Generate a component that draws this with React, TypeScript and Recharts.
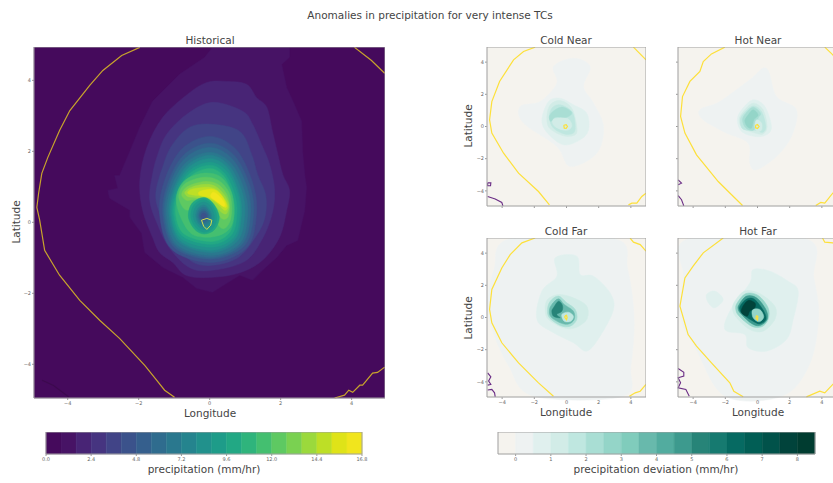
import React from "react";
import { ScatterChart, Scatter, XAxis, YAxis } from "recharts";

type Pts = number[][];
const FONT = "'DejaVu Sans', sans-serif";

const viridisColors = ["#450a5c","#471365","#482475","#463480","#414487","#3b528b","#355f8d","#2f6c8e","#2a788e","#25848e","#21918c","#1e9c89","#22a884","#2fb47c","#44bf70","#5ec962","#7ad151","#9bd93c","#bddf26","#dfe318","#f1e51d"];
const precipLevels = [0,0.8,1.6,2.4,3.2,4,4.8,5.6,6.4,7.2,8,8.8,9.6,10.4,11.2,12,12.8,13.6,14.4,15.2,16,16.8];
const precipTicks = [0,2.4,4.8,7.2,9.6,12,14.4,16.8];
const devColors = ["#f5f3ee","#eef2f2","#e0f0ee","#d2ece7","#bfe7e0","#a9ded4","#94d5c8","#80ccbc","#68b9ac","#52ac9f","#3d9a8e","#278478","#167a70","#066a62","#015e55","#01524a","#01433b","#003c30"];
const devLevels = [-0.5,0,0.5,1,1.5,2,2.5,3,3.5,4,4.5,5,5.5,6,6.5,7,7.5,8,8.5];
const devTicks = [0,1,2,3,4,5,6,7,8];
const geoTicks = [-4,-2,0,2,4];

// Historical: filled contour outlines, level index in viridisColors
const h1: Pts = [[0.08,4.93],[-0.14,4.65],[-0.85,4.17],[-1.61,3.41],[-1.97,2.68],[-2.25,2.0],[-2.54,1.32],[-2.68,1.32],[-2.59,0.96],[-2.87,0.9],[-2.82,0.68],[-2.25,0.34],[-2.25,0.14],[-1.92,-0.31],[-1.83,-0.85],[-1.32,-1.27],[-0.76,-1.55],[-0.37,-1.86],[0.08,-1.97],[0.48,-1.72],[0.85,-1.49],[1.21,-1.63],[1.49,-1.35],[1.89,-0.99],[2.17,-0.65],[2.48,-0.51],[2.68,0.34],[2.73,0.99],[2.68,1.35],[2.62,2.0],[2.59,2.85],[2.39,3.32],[2.17,3.8],[2.03,4.45],[2.25,4.65],[2.25,4.93]];
const h2: Pts = [[-0.08,3.94],[0.48,3.97],[1.04,3.89],[1.32,3.52],[1.61,3.24],[1.77,2.56],[1.92,1.92],[2.06,1.35],[2.25,0.9],[2.17,0.34],[1.97,-0.42],[1.49,-1.07],[0.85,-1.42],[0.08,-1.55],[-0.65,-1.5],[-1.04,-1.13],[-1.41,-0.85],[-1.61,-0.42],[-1.89,0.34],[-1.97,1.18],[-1.77,2.11],[-1.32,2.96],[-0.62,3.61]];
const h3: Pts = [[0.08,3.38],[0.93,3.13],[1.21,2.76],[1.46,2.2],[1.69,1.63],[1.83,0.9],[1.75,0.2],[1.46,-0.51],[0.99,-1.1],[0.08,-1.35],[-0.56,-1.28],[-1.13,-0.73],[-1.46,-0.08],[-1.69,0.62],[-1.61,1.35],[-1.46,1.92],[-1.21,2.48],[-0.65,3.04]];
const h4: Pts = [[0.08,2.76],[0.85,2.56],[1.18,1.92],[1.35,1.35],[1.58,0.76],[1.55,0.11],[1.27,-0.45],[0.79,-1.0],[0.08,-1.21],[-0.51,-1.1],[-0.99,-0.51],[-1.32,0.06],[-1.52,0.76],[-1.3,1.63],[-1.04,2.2],[-0.56,2.68]];
const h5: Pts = [[0,2.42],[0.73,2.07],[1.19,1.18],[1.32,0.29],[1.06,-0.7],[0.06,-1.13],[-1.06,-0.77],[-1.41,0.22],[-1.27,1.18],[-0.78,2.07]];
const h6: Pts = [[0,2.23],[0.68,1.9],[1.12,1.08],[1.24,0.26],[0.99,-0.65],[0.06,-1.04],[-0.99,-0.72],[-1.32,0.2],[-1.19,1.08],[-0.73,1.9]];
const h7: Pts = [[0,2.11],[0.63,1.8],[1.04,1.03],[1.15,0.25],[0.92,-0.61],[0.06,-0.99],[-0.95,-0.68],[-1.27,0.19],[-1.14,1.03],[-0.7,1.8]];
const h8: Pts = [[0,1.97],[0.59,1.68],[0.96,0.96],[1.07,0.23],[0.86,-0.58],[0.06,-0.93],[-0.91,-0.64],[-1.21,0.17],[-1.09,0.96],[-0.67,1.68]];
const h9: Pts = [[0,1.89],[0.54,1.61],[0.89,0.93],[0.99,0.25],[0.79,-0.52],[0.06,-0.85],[-0.86,-0.57],[-1.15,0.2],[-1.03,0.93],[-0.63,1.61]];
const h10: Pts = [[0,1.8],[0.5,1.54],[0.81,0.9],[0.9,0.25],[0.72,-0.48],[0.06,-0.79],[-0.82,-0.53],[-1.1,0.2],[-0.99,0.9],[-0.6,1.54]];
const h11: Pts = [[0,1.69],[0.47,1.45],[0.77,0.85],[0.85,0.25],[0.68,-0.42],[0.06,-0.7],[-0.8,-0.46],[-1.06,0.21],[-0.95,0.85],[-0.58,1.45]];
const h12: Pts = [[0,1.61],[0.42,1.38],[0.69,0.83],[0.77,0.27],[0.62,-0.35],[0.06,-0.62],[-0.76,-0.39],[-1.01,0.23],[-0.91,0.83],[-0.56,1.38]];
const h13: Pts = [[0,1.52],[0.39,1.31],[0.63,0.8],[0.7,0.29],[0.56,-0.29],[0.06,-0.54],[-0.72,-0.33],[-0.96,0.25],[-0.86,0.8],[-0.53,1.31]];
const h14: Pts = [[-0.2,1.38],[0.28,1.3],[0.59,0.9],[0.68,0.39],[0.62,-0.08],[0.34,-0.34],[-0.14,-0.42],[-0.56,-0.28],[-0.87,0.28],[-0.93,0.76],[-0.7,1.18]];
const h15: Pts = [[-0.17,1.27],[0.25,1.18],[0.54,0.85],[0.62,0.42],[0.56,0],[0.34,-0.17],[0,0.28],[-0.28,0.48],[-0.62,0.34],[-0.79,0.48],[-0.87,0.79],[-0.68,1.1]];
const h16: Pts = [[-0.14,1.15],[0.23,1.07],[0.48,0.79],[0.56,0.45],[0.51,0.14],[0.34,0.11],[0.14,0.42],[-0.08,0.59],[-0.39,0.65],[-0.65,0.62],[-0.79,0.79],[-0.62,1.01]];
const h17: Pts = [[-0.14,1.07],[0.17,1.01],[0.42,0.76],[0.54,0.48],[0.48,0.25],[0.34,0.28],[0.11,0.51],[-0.11,0.65],[-0.42,0.7],[-0.62,0.73],[-0.7,0.85],[-0.51,0.99]];
const h18: Pts = [[-0.51,0.93],[-0.11,0.99],[0.17,0.93],[0.39,0.7],[0.51,0.45],[0.42,0.34],[0.2,0.54],[-0.08,0.7],[-0.42,0.76],[-0.62,0.82]];
const h19: Pts = [[-0.28,0.87],[0.06,0.93],[0.28,0.82],[0.45,0.56],[0.45,0.42],[0.25,0.54],[0,0.7],[-0.28,0.76]];
const h20: Pts = [[0.11,0.85],[0.28,0.73],[0.42,0.54],[0.39,0.45],[0.2,0.59],[0.03,0.73]];
const eye12: Pts = [[-0.17,0.7],[0.1,0.53],[0.27,0.15],[0.14,-0.2],[-0.15,-0.33],[-0.42,-0.2],[-0.6,0.15],[-0.5,0.53]];
const eye11: Pts = [[-0.17,0.64],[0.07,0.48],[0.2,0.15],[0.1,-0.16],[-0.15,-0.28],[-0.38,-0.16],[-0.53,0.15],[-0.45,0.48]];
const eye10: Pts = [[-0.17,0.57],[0.03,0.44],[0.13,0.15],[0.05,-0.1],[-0.15,-0.2],[-0.33,-0.1],[-0.46,0.15],[-0.39,0.44]];
const eye9: Pts = [[-0.17,0.49],[-0.02,0.38],[0.06,0.16],[0,-0.05],[-0.16,-0.13],[-0.3,-0.05],[-0.39,0.16],[-0.34,0.38]];
const eye8: Pts = [[-0.17,0.43],[-0.05,0.35],[0.02,0.17],[-0.03,0],[-0.16,-0.07],[-0.28,0],[-0.35,0.17],[-0.3,0.35]];
const eye7: Pts = [[-0.17,0.37],[-0.07,0.31],[-0.02,0.17],[-0.06,0.05],[-0.16,-0.01],[-0.26,0.05],[-0.31,0.17],[-0.27,0.31]];
const eye6: Pts = [[-0.17,0.32],[-0.09,0.28],[-0.05,0.18],[-0.09,0.09],[-0.16,0.04],[-0.24,0.09],[-0.28,0.18],[-0.25,0.28]];
const eye5: Pts = [[-0.17,0.26],[-0.12,0.24],[-0.09,0.18],[-0.12,0.12],[-0.17,0.09],[-0.22,0.12],[-0.24,0.18],[-0.22,0.24]];

const histFills: [Pts, number][] = [[h2,2],[h3,3],[h4,4],[h5,5],[h6,6],[h7,7],[h8,8],[h9,9],[h10,10],[h11,11],[h12,12],[h13,13],[h14,14],[h15,15],[h16,16],[h17,17],[h18,18],[h19,19],[h20,20],[eye12,12],[eye11,11],[eye10,10],[eye9,9],[eye8,8],[eye7,7],[eye6,6],[eye5,5]];

const histYellowA: Pts = [[-1.97,4.93],[-2.48,4.7],[-3.01,4.28],[-3.38,3.86],[-3.94,3.15],[-4.23,2.59],[-4.56,1.83],[-4.73,1.38],[-4.82,0.82],[-4.87,0.42],[-4.79,0.06],[-4.65,-0.79],[-4.23,-1.49],[-3.66,-2.2],[-3.1,-2.76],[-2.54,-3.27],[-1.83,-4.03],[-1.49,-4.45],[-1.27,-4.73],[-0.99,-4.93]];
const histYellowB: Pts = [[3.52,-4.95],[3.8,-4.87],[3.92,-4.73],[4.03,-4.79],[4.23,-4.59],[4.31,-4.59],[4.59,-4.25],[4.73,-4.23],[4.93,-4.08]];
const histYellowC: Pts = [[4.08,4.93],[4.56,4.56],[4.93,4.2]];
const histEyeLoop: Pts = [[-0.23,0.06],[-0.08,0.11],[0.06,0.06],[0.03,-0.08],[-0.08,-0.2],[-0.17,-0.11],[-0.23,0.06]];
const histPurple: Pts = [[-4.72,-4.45],[-4.4,-4.6],[-3.96,-4.93]];

// Cold Near
const cnFills: [Pts, number][] = [
  [[[-1.64,1.55],[-0.6,2.69],[-0.81,3.73],[0.43,4.24],[1.47,3.73],[1.06,2.48],[1.68,1.45],[2.3,0],[1.88,-1.66],[0.23,-2.48],[-0.6,-1.24],[-2.67,0.21],[-2.88,1.24]],1],
  [[[-1.12,1.55],[-0.39,1.76],[0.43,1.35],[1.26,0.83],[1.37,-0.21],[0.85,-0.83],[-0.19,-1.14],[-1.18,-0.41],[-1.53,0.41]],2],
  [[[-1.01,1.35],[-0.39,1.61],[0.33,1.14],[0.64,0],[0.54,-0.52],[-0.19,-0.58],[-1.06,-0.1],[-1.22,0.62]],3],
  [[[-0.91,1.14],[-0.39,1.35],[0.33,0.93],[0.54,0.1],[0.43,-0.41],[-0.14,-0.46],[-0.81,-0.1],[-1.06,0.52]],4],
  [[[-0.81,0.46],[0.02,0.52],[0.33,0.1],[0.12,-0.21],[-0.39,-0.17],[-0.81,0.1]],3],
  [[[-0.7,1.04],[-0.19,1.2],[0.33,0.87],[0.02,0.58],[-0.7,0.58],[-0.97,0.31],[-1.06,0.66]],5],
];
const cnYellow: Pts[] = [
  [[-1.95,4.93],[-2.67,4.66],[-3.29,4.14],[-4.16,2.8],[-4.64,1.55],[-4.78,0.41],[-4.64,-0.41],[-3.91,-1.66],[-2.98,-2.9],[-1.74,-4.04],[-1.06,-4.87]],
  [[4.16,4.93],[4.94,4.14]],
  [[3.85,-4.87],[4.06,-4.76],[4.37,-4.76],[4.68,-4.35],[4.94,-4.14]],
  [[-0.17,0.08],[-0.02,0.12],[0.06,0],[-0.02,-0.12],[-0.14,-0.1],[-0.17,0.08]],
];
const cnPurple: Pts[] = [
  [[-4.9,-4.35],[-4.43,-4.51],[-4.02,-4.72],[-3.95,-4.93]],
  [[-4.9,-3.5],[-4.7,-3.5],[-4.72,-3.68],[-4.9,-3.68],[-4.9,-3.5]],
];

// Hot Near
const hnFills: [Pts, number][] = [
  [[[-3.58,1.04],[-2.34,1.55],[-0.48,2.9],[0.56,3.62],[1.18,1.86],[2.42,1.04],[2.11,-0.62],[1.18,-1.86],[-0.06,-2.69],[-0.48,-2.28],[-0.58,-1.04],[-1.93,-0.41],[-3.37,0.41]],1],
  [[[-0.99,1.04],[-0.27,1.66],[0.46,1.24],[0.87,0],[0.56,-0.52],[-0.17,-0.62],[-0.99,-0.31],[-1.26,0.41]],2],
  [[[-0.89,0.93],[-0.27,1.45],[0.35,1.04],[0.6,0],[0.35,-0.46],[-0.17,-0.41],[-0.93,-0.1],[-1.14,0.41]],3],
  [[[-0.85,0.83],[-0.27,1.28],[0.25,0.93],[0.52,0],[0.31,-0.37],[-0.06,-0.25],[-0.89,-0.17],[-1.06,0.41]],4],
  [[[-0.72,0.83],[-0.27,1.2],[0.19,0.83],[0.04,0.52],[-0.23,-0.21],[-0.72,-0.1],[-0.93,0.41]],5],
  [[[-0.58,0.72],[-0.27,1.04],[0.04,0.72],[-0.23,0.41],[-0.37,-0.1],[-0.64,0],[-0.79,0.37]],6],
  [[[-0.06,0.41],[0.25,0.21],[0.25,-0.21],[-0.02,-0.31],[-0.17,0]],3],
];
const hnYellow: Pts[] = [
  [[-2.03,4.93],[-2.86,4.51],[-3.37,4.04],[-3.58,3.42],[-4.2,2.8],[-4.66,1.86],[-4.78,0.62],[-4.51,-0.41],[-3.79,-1.76],[-2.44,-3.42],[-1.61,-4.24],[-0.93,-4.91]],
  [[4.18,4.93],[4.68,4.45],[4.94,4.1]],
  [[3.62,-4.91],[3.93,-4.72],[4.18,-4.76],[4.68,-4.14],[4.94,-3.9]],
  [[-0.12,0.08],[0,0.12],[0.1,0],[0,-0.12],[-0.12,-0.08],[-0.12,0.08]],
];
const hnPurple: Pts[] = [
  [[-4.93,-3.31],[-4.72,-3.52],[-4.93,-3.62]],
  [[-4.93,-4.29],[-4.72,-4.55],[-4.58,-4.93]],
];

// Cold Far
const cfFills: [Pts, number][] = [
  [[[-3.5,4.9],[3,4.9],[3.8,3],[4.2,0],[4,-3],[3.5,-4.9],[-2,-4.9],[-3.6,-3],[-4.6,-0.8],[-4.9,1],[-4.5,3]],1],
  [[[-0.7,3.71],[0.64,3.81],[0.85,2.67],[1.68,2.57],[2.71,1.53],[2.92,0.5],[2.09,-1.16],[1.26,-2.09],[0.43,-1.57],[-0.81,-0.95],[-1.84,-0.12],[-1.53,1.64],[-0.6,2.57]],2],
  [[[-1.18,1.12],[-0.5,1.43],[0.43,1.22],[1.26,0.7],[1.26,-0.12],[0.54,-0.64],[-0.19,-0.64],[-1.12,-0.12],[-1.33,0.5]],3],
  [[[-1.01,1.01],[-0.5,1.33],[0.02,0.91],[0.54,0.5],[0.64,-0.12],[0.23,-0.54],[-0.39,-0.5],[-1.06,-0.02],[-1.18,0.5]],5],
  [[[-0.91,0.81],[-0.5,1.16],[-0.14,0.81],[0.43,0.39],[0.48,-0.12],[0.12,-0.41],[-0.39,-0.33],[-0.97,0.04],[-1.06,0.46]],8],
  [[[-0.81,0.6],[-0.5,1.01],[-0.25,0.75],[-0.29,0.39],[-0.6,0.19],[-0.39,-0.02],[-0.81,0.08],[-0.91,0.39]],11],
  [[[-0.29,0.19],[0.12,0.33],[0.43,0.08],[0.27,-0.23],[-0.14,-0.23]],4],
];
const cfYellow: Pts[] = [
  [[-1.95,4.94],[-2.77,4.64],[-3.5,3.91],[-4.02,3.08],[-4.64,1.74],[-4.78,0.5],[-4.64,-0.33],[-4.02,-1.57],[-2.98,-2.82],[-1.74,-4.06],[-0.81,-4.89]],
  [[3.95,4.94],[4.16,4.68],[4.58,4.53],[4.94,4.12]],
  [[3.91,-4.89],[4.27,-4.68],[4.58,-4.58],[4.94,-4.16]],
  [[-0.1,0.1],[0,0.14],[0.04,0],[0,-0.14],[-0.1,0],[-0.1,0.1]],
];
const cfPurple: Pts[] = [
  [[-4.9,-3.44],[-4.7,-3.69],[-4.84,-3.95],[-4.7,-4.16],[-4.9,-4.2]],
  [[-4.9,-4.51],[-4.64,-4.47],[-4.47,-4.68],[-4.43,-4.93]],
];

// Hot Far
const hfFills: [Pts, number][] = [
  [[[-4.3,4.9],[3,4.9],[3.5,2.5],[3.8,0],[3.2,-3],[1.5,-4.9],[-2,-4.9],[-3.8,-2],[-4.8,0],[-4.6,2.5]],1],
  [[[-0.27,2.98],[0.77,2.88],[1.9,2.26],[2.53,1.64],[2.22,-0.12],[1.8,-1.37],[0.56,-2.09],[-0.58,-1.88],[-0.79,-1.06],[-2.03,-0.75],[-1.61,0.6],[-0.48,2.15]],2],
  [[[-3.17,1.43],[-2.65,1.64],[-2.13,1.12],[-2.65,0.6],[-3.06,0.91]],2],
  [[[-1.41,1.01],[-0.79,1.64],[0.14,1.49],[1.08,0.7],[1.08,-0.12],[0.35,-0.85],[-0.48,-0.75],[-1.3,-0.02],[-1.55,0.5]],3],
  [[[-1.26,0.91],[-0.72,1.49],[0.04,1.37],[0.66,0.6],[0.66,-0.12],[0.25,-0.58],[-0.37,-0.54],[-1.14,0.08],[-1.35,0.5]],6],
  [[[-1.14,0.81],[-0.68,1.33],[-0.06,1.22],[0.52,0.5],[0.6,-0.12],[0.14,-0.5],[-0.37,-0.37],[-0.99,0.19],[-1.2,0.5]],10],
  [[[-1.06,0.75],[-0.64,1.16],[-0.17,1.12],[0.39,0.39],[0.52,-0.12],[0.14,-0.39],[-0.27,-0.23],[-0.89,0.19],[-1.1,0.46]],13],
  [[[-0.93,0.66],[-0.58,1.06],[-0.17,0.91],[-0.17,0.6],[-0.48,0.39],[-0.64,0.08],[-0.99,0.29]],16],
  [[[-0.31,0.46],[0.14,0.5],[0.39,0.04],[0.1,-0.27],[-0.27,-0.02]],6],
];
const hfYellow: Pts[] = [
  [[-2.13,4.94],[-3.37,4.02],[-4.0,3.19],[-4.51,2.46],[-4.82,0.7],[-4.31,-1.06],[-3.79,-1.78],[-2.86,-2.82],[-1.72,-4.06],[-1.47,-4.58],[-0.89,-4.93]],
  [[4.04,4.94],[4.18,4.68],[4.68,4.64],[4.94,4.4]],
  [[3.04,-4.93],[3.87,-4.58],[4.18,-4.68],[4.68,-4.16],[4.94,-3.95]],
  [[-0.06,0.12],[0.02,0.06],[0,-0.15],[-0.1,-0.05],[-0.06,0.12]],
];
const hfPurple: Pts[] = [
  [[-4.93,-3.17],[-4.58,-3.4],[-4.58,-3.64],[-4.93,-3.75],[-4.78,-4.06],[-4.93,-4.37],[-4.45,-4.47],[-4.24,-4.89]],
];

const NoDot = () => null;
const toPts = (p: Pts) => p.map(([x, y]) => ({ x, y }));

// Closed Catmull-Rom curve through the scaled points, so outlines stay on their vertices.
const smoothClosed = (ctx: any) => {
  let pts: number[][] = [];
  return {
    areaStart() {},
    areaEnd() {},
    lineStart() { pts = []; },
    point(x: any, y: any) { pts.push([+x, +y]); },
    lineEnd() {
      const n = pts.length;
      if (!n) return;
      ctx.moveTo(pts[0][0], pts[0][1]);
      for (let i = 0; i < n; i++) {
        const p0 = pts[(i - 1 + n) % n], p1 = pts[i], p2 = pts[(i + 1) % n], p3 = pts[(i + 2) % n];
        ctx.bezierCurveTo(p1[0] + (p2[0] - p0[0]) / 6, p1[1] + (p2[1] - p0[1]) / 6, p2[0] - (p3[0] - p1[0]) / 6, p2[1] - (p3[1] - p1[1]) / 6, p2[0], p2[1]);
      }
      ctx.closePath();
    },
  };
};

const polyFill = (pts: Pts, color: string, key: string, curve: any = smoothClosed) => (
  <Scatter key={key} data={toPts(pts)} line={{ fill: color, stroke: color, strokeWidth: 0.5 }} lineType="joint" lineJointType={curve} shape={NoDot} isAnimationActive={false} />
);
const polyStraight = (pts: Pts, color: string, width: number, key: string) => (
  <Scatter key={key} data={toPts(pts)} line={{ fill: "none", stroke: color, strokeWidth: width }} lineType="joint" lineJointType="linear" shape={NoDot} isAnimationActive={false} />
);

function Panel({ left, top, size, lo, hi, bg, palette, base, fills, yellow, yellowColor, lineWidth = 1.2, loop, purple, purpleColor, showX, showY }: any) {
  const pad = 22;
  const frame: Pts = [[lo, lo], [hi, lo], [hi, hi], [lo, hi]];
  const tickStyle = { fontSize: 5, fill: "#666", fontFamily: FONT };
  const fmt = (v: number) => String(v).replace("-", "\u2212");
  return (
    <div style={{ position: "absolute", left: left - pad, top }}>
      <ScatterChart width={size + pad} height={size + 14} margin={{ top: 0, right: 0, bottom: 0, left: 0 }}>
        <XAxis type="number" dataKey="x" domain={[lo, hi]} ticks={geoTicks} height={14} tick={tickStyle} tickSize={2} tickMargin={1} axisLine={false} stroke="#999" tickFormatter={showX ? fmt : () => ""} interval={0} />
        <YAxis type="number" dataKey="y" domain={[lo, hi]} ticks={geoTicks} width={pad} tick={tickStyle} tickSize={2} tickMargin={1} axisLine={false} stroke="#999" tickFormatter={showY ? fmt : () => ""} interval={0} />
        {polyFill(frame, bg, "bg", "linearClosed")}
        {base ? polyFill(base, palette[1], "base", "linearClosed") : null}
        {fills.map(([p, lvl]: [Pts, number], i: number) => polyFill(p, palette[lvl], "f" + i))}
        {purple.map((p: Pts, i: number) => polyStraight(p, purpleColor, 1.1, "p" + i))}
        {yellow.map((p: Pts, i: number) => polyStraight(p, yellowColor, lineWidth, "y" + i))}
        {loop ? polyStraight(loop, "#d3e04e", 1, "loop") : null}
        {polyStraight([...frame, frame[0]], "#a0a0a0", 1, "frame")}
      </ScatterChart>
    </div>
  );
}

function ColorBar({ left, top, width, colors, levels, ticks, fmt }: any) {
  const pad = 10;
  const lo = levels[0];
  const hi = levels[levels.length - 1];
  const box: Pts = [[lo, 0], [hi, 0], [hi, 1], [lo, 1], [lo, 0]];
  return (
    <div style={{ position: "absolute", left: left - pad, top }}>
      <ScatterChart width={width + pad * 2} height={35} margin={{ top: 0, right: pad, bottom: 0, left: pad }}>
        <XAxis type="number" dataKey="x" domain={[lo, hi]} ticks={ticks} height={13} tick={{ fontSize: 5, fill: "#666", fontFamily: FONT }} tickSize={2} tickMargin={1} axisLine={false} stroke="#999" tickFormatter={fmt} interval={0} />
        <YAxis type="number" dataKey="y" domain={[0, 1]} hide />
        {colors.map((c: string, i: number) =>
          polyFill([[levels[i], 0], [levels[i + 1], 0], [levels[i + 1], 1], [levels[i], 1]], c, "s" + i, "linearClosed")
        )}
        {polyStraight(box, "#a0a0a0", 1, "box")}
      </ScatterChart>
    </div>
  );
}

function Txt({ x, y, size = 10.5, rot, children }: any) {
  return (
    <div style={{ position: "absolute", left: x, top: y, transform: `translate(-50%,-50%)${rot ? ` rotate(${rot}deg)` : ""}`, fontFamily: FONT, fontSize: size, color: "#444", whiteSpace: "nowrap", lineHeight: 1 }}>{children}</div>
  );
}

export default function App() {
  const yellow = "#fde03a";
  const purple = "#6a2c85";
  return (
    <div style={{ position: "fixed", left: 0, top: 0, width: 833, height: 483, overflow: "hidden", background: "#fff" }}>
      <Txt x={430} y={15}>Anomalies in precipitation for very intense TCs</Txt>

      <Txt x={210} y={40}>Historical</Txt>
      <Panel left={34} top={47} size={351} lo={-4.95} hi={4.94} bg={viridisColors[0]} palette={viridisColors} base={h1} fills={histFills} yellow={[histYellowA, histYellowB, histYellowC]} yellowColor="#c8a42c" lineWidth={1.2} loop={histEyeLoop} purple={[histPurple]} purpleColor="#3c0a4e" showX showY />
      <Txt x={210} y={413}>Longitude</Txt>
      <Txt x={16} y={222} rot={-90}>Latitude</Txt>

      <Txt x={566} y={40}>Cold Near</Txt>
      <Panel left={487} top={47} size={159} lo={-4.94} hi={4.94} bg={devColors[0]} palette={devColors} fills={cnFills} yellow={cnYellow} yellowColor={yellow} purple={cnPurple} purpleColor={purple} showX={false} showY />
      <Txt x={758} y={40}>Hot Near</Txt>
      <Panel left={678} top={47} size={159} lo={-4.94} hi={4.94} bg={devColors[0]} palette={devColors} fills={hnFills} yellow={hnYellow} yellowColor={yellow} purple={hnPurple} purpleColor={purple} showX={false} showY={false} />
      <Txt x={468} y={126} rot={-90}>Latitude</Txt>

      <Txt x={566} y={231}>Cold Far</Txt>
      <Panel left={487} top={238} size={159} lo={-4.94} hi={4.94} bg={devColors[0]} palette={devColors} fills={cfFills} yellow={cfYellow} yellowColor={yellow} purple={cfPurple} purpleColor={purple} showX showY />
      <Txt x={758} y={231}>Hot Far</Txt>
      <Panel left={678} top={238} size={159} lo={-4.94} hi={4.94} bg={devColors[0]} palette={devColors} fills={hfFills} yellow={hfYellow} yellowColor={yellow} purple={hfPurple} purpleColor={purple} showX showY={false} />
      <Txt x={468} y={318} rot={-90}>Latitude</Txt>
      <Txt x={566} y={412}>Longitude</Txt>
      <Txt x={758} y={412}>Longitude</Txt>

      <ColorBar left={46} top={432} width={316} colors={viridisColors} levels={precipLevels} ticks={precipTicks} fmt={(v: number) => v.toFixed(1)} />
      <Txt x={204} y={469}>precipitation (mm/hr)</Txt>
      <ColorBar left={498} top={432} width={317} colors={devColors} levels={devLevels} ticks={devTicks} fmt={(v: number) => String(v)} />
      <Txt x={656} y={469}>precipitation deviation (mm/hr)</Txt>
    </div>
  );
}
